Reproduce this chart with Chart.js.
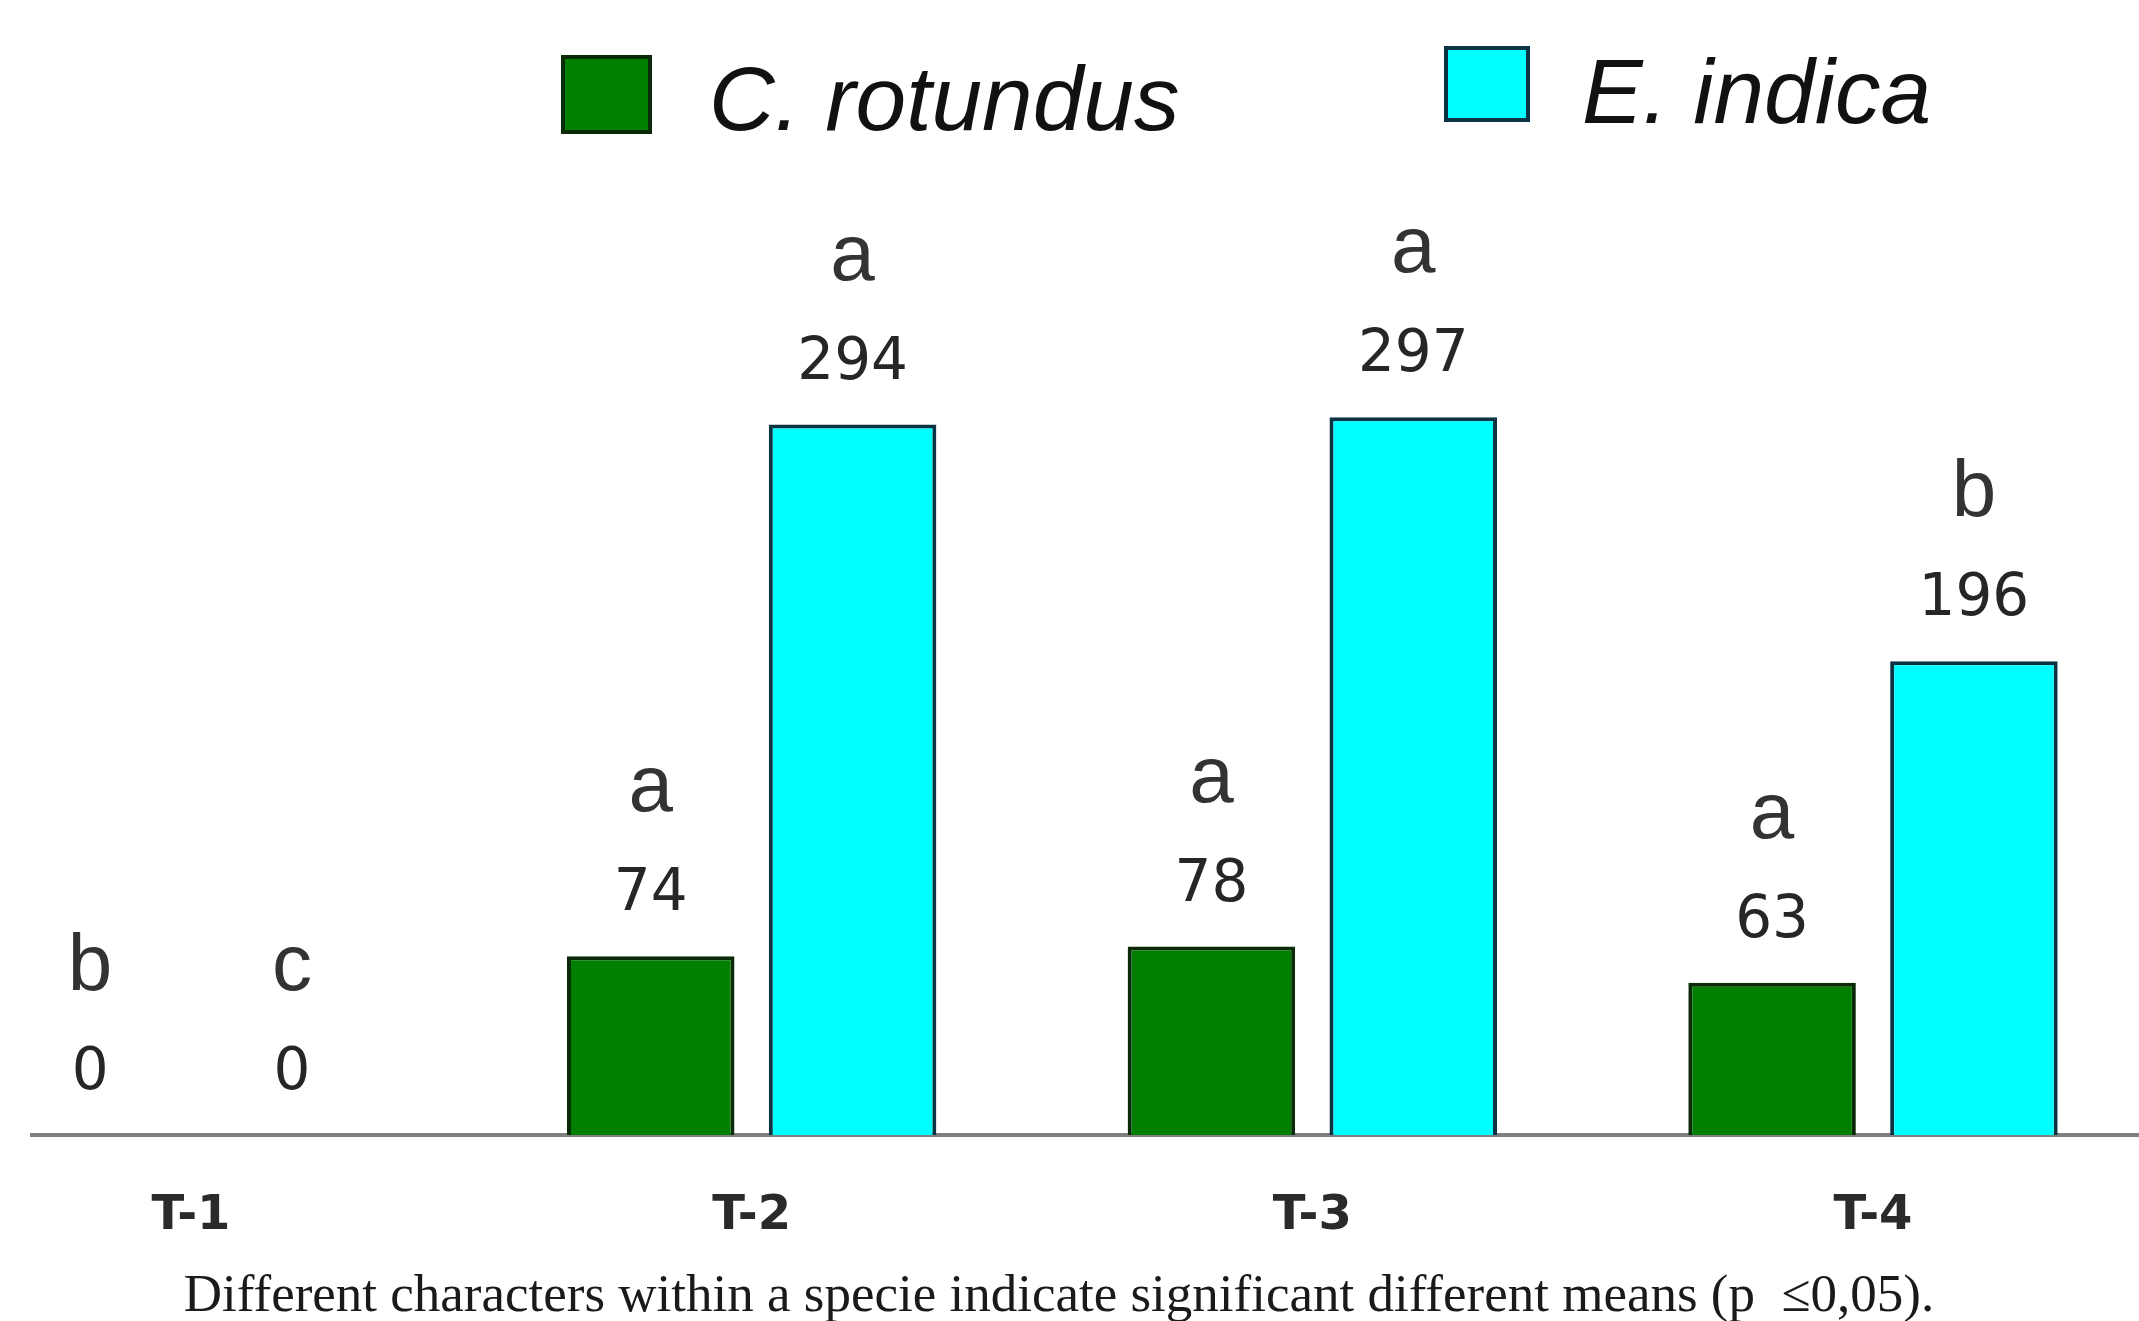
<!DOCTYPE html>
<html>
<head>
<meta charset="utf-8">
<title>C. rotundus / E. indica</title>
<script src="https://cdn.jsdelivr.net/npm/chart.js@4"></script>
<style>
    html, body { margin: 0; padding: 0; background: #ffffff; }
    #wrap { width: 2139px; height: 1321px; position: relative; }
</style>
</head>
<body>
<div id="wrap"><canvas id="weedChart"></canvas></div>
<script>
const categories = ['T-1', 'T-2', 'T-3', 'T-4'];
const rotundusValues = [0, 74, 78, 63];
const indicaValues = [0, 294, 297, 196];
const rotundusLetters = ['b', 'a', 'a', 'a'];
const indicaLetters = ['c', 'a', 'a', 'b'];
const seriesNames = ['C. rotundus', 'E. indica'];
const caption = 'Different characters within a specie indicate significant different means (p  \u22640,05).';

// gray baseline running across the whole width, under the bars
const baselinePlugin = {
    id: 'baseline',
    beforeDatasetsDraw(chart) {
        const ctx = chart.ctx;
        const y = chart.scales.y.getPixelForValue(0);
        ctx.save();
        ctx.strokeStyle = '#808080';
        ctx.lineWidth = 4;
        ctx.beginPath();
        ctx.moveTo(30, y);
        ctx.lineTo(chart.width, y);
        ctx.stroke();
        ctx.restore();
    }
};

// value + significance letter above each bar
const barLabelPlugin = {
    id: 'barLabels',
    afterDatasetsDraw(chart) {
        const ctx = chart.ctx;
        const letters = [rotundusLetters, indicaLetters];
        ctx.save();
        ctx.textAlign = 'center';
        ctx.textBaseline = 'alphabetic';
        chart.data.datasets.forEach((ds, d) => {
            chart.getDatasetMeta(d).data.forEach((bar, i) => {
                ctx.fillStyle = '#262626';
                ctx.font = '58px "DejaVu Sans"';
                ctx.fillText(String(ds.data[i]), bar.x, bar.y - 46);
                ctx.fillStyle = '#333333';
                ctx.font = '80px "Liberation Sans"';
                ctx.fillText(letters[d][i], bar.x, bar.y - 145);
            });
        });
        ctx.restore();
    }
};

// legend and caption drawn by hand so they sit where the original has them
const legendPlugin = {
    id: 'topLegend',
    afterDraw(chart) {
        const ctx = chart.ctx;
        const spots = [
            { box: [563, 57, 87, 75], textX: 709, baseY: 130 },
            { box: [1446, 48, 82, 72], textX: 1582, baseY: 123 }
        ];
        ctx.save();
        chart.data.datasets.forEach((ds, d) => {
            const s = spots[d];
            ctx.fillStyle = ds.backgroundColor;
            ctx.fillRect(s.box[0], s.box[1], s.box[2], s.box[3]);
            ctx.strokeStyle = ds.borderColor;
            ctx.lineWidth = 4;
            ctx.strokeRect(s.box[0], s.box[1], s.box[2], s.box[3]);
            ctx.fillStyle = '#111111';
            ctx.font = 'italic 91px "Liberation Sans"';
            ctx.textBaseline = 'alphabetic';
            ctx.textAlign = 'left';
            ctx.fillText(ds.label, s.textX, s.baseY);
        });
        ctx.fillStyle = '#1a1a1a';
        ctx.font = '53px "Liberation Serif"';
        ctx.textAlign = 'center';
        ctx.textBaseline = 'alphabetic';
        ctx.fillText(caption, 1059, 1311);
        ctx.restore();
    }
};

function renderWeedChart() {
    const ctx = document.getElementById('weedChart').getContext('2d');
    new Chart(ctx, {
        type: 'bar',
        data: {
            labels: categories,
            datasets: [{
                label: seriesNames[0],
                data: rotundusValues,
                backgroundColor: '#007f00',
                borderColor: '#0a2a0a',
                borderWidth: 4,
                categoryPercentage: 0.72,
                barPercentage: 0.83,
                clip: false
            }, {
                label: seriesNames[1],
                data: indicaValues,
                backgroundColor: '#00ffff',
                borderColor: '#0a3444',
                borderWidth: 4,
                categoryPercentage: 0.72,
                barPercentage: 0.83,
                clip: false
            }]
        },
        options: {
            responsive: true,
            maintainAspectRatio: false,
            animation: false,
            layout: {
                padding: { top: 410, left: 191, right: 266, bottom: 0 }
            },
            plugins: {
                legend: { display: false },
                tooltip: { enabled: false },
                title: { display: false }
            },
            scales: {
                x: {
                    offset: false,
                    grid: { display: false },
                    border: { display: false },
                    ticks: {
                        color: '#2a2a2a',
                        font: { family: '"DejaVu Sans"', size: 48, weight: 'bold' },
                        padding: 45,
                        maxRotation: 0
                    },
                    afterFit(scale) { scale.height = 186; }
                },
                y: {
                    display: false,
                    min: 0,
                    max: 300
                }
            }
        },
        plugins: [baselinePlugin, barLabelPlugin, legendPlugin]
    });
}

document.addEventListener('DOMContentLoaded', () => {
    renderWeedChart();
});
</script>
</body>
</html>
